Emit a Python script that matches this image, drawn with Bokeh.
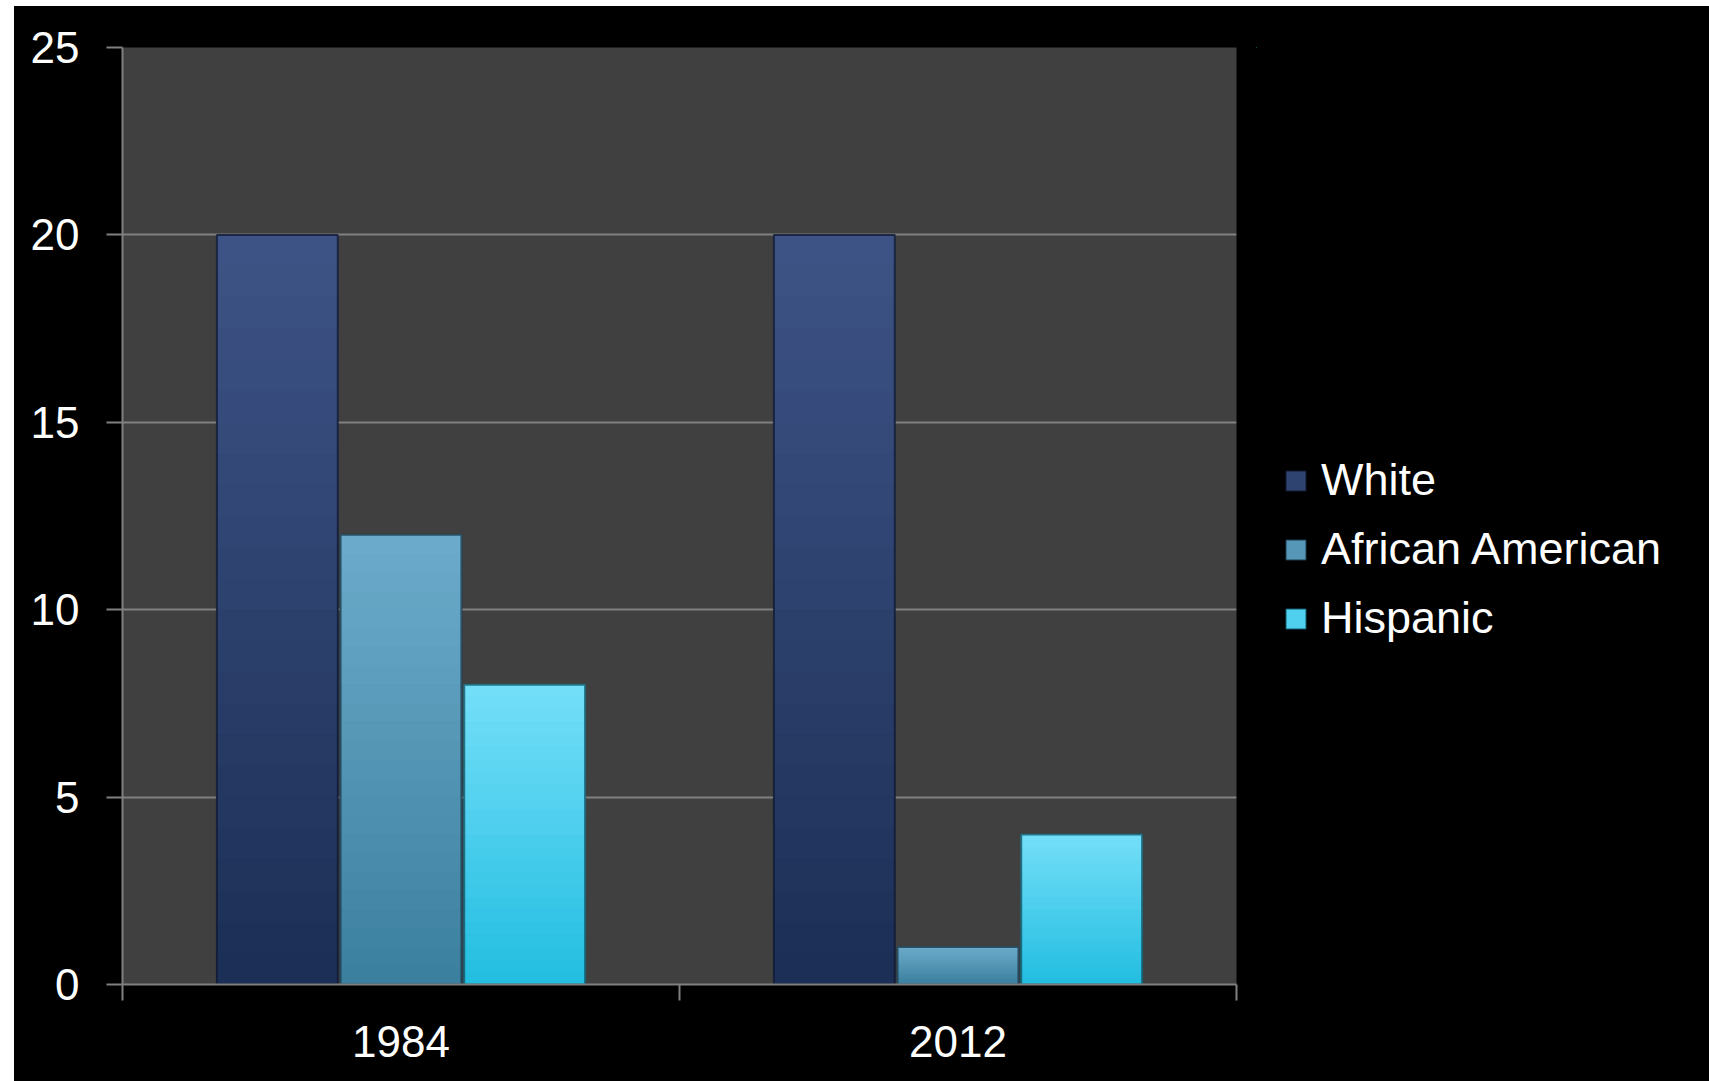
from bokeh.plotting import figure
from bokeh.layouts import row
from bokeh.models import ColumnDataSource, Range1d, FixedTicker, Legend, LegendItem
from bokeh.embed import file_html
from bokeh.resources import INLINE

# ---- data ----
years = ["1984", "2012"]
series = ["White", "African American", "Hispanic"]
white = [20, 20]
african_american = [12, 1]
hispanic = [8, 4]
y_ticks = [0, 5, 10, 15, 20, 25]

values = [white, african_american, hispanic]

# ---- style ----
top_colors = ["#3e5486", "#6cabcb", "#74dff8"]
bottom_colors = ["#1b2e55", "#3b7f9e", "#22bde1"]
edge_colors = ["#111a33", "#1d3d50", "#135a6c"]
offsets = [-0.222, 0.0, 0.222]
bar_w = 0.217
N = 24
FONT = "Liberation Sans"


def mix(c1, c2, t):
    a = [int(c1[i:i + 2], 16) for i in (1, 3, 5)]
    b = [int(c2[i:i + 2], 16) for i in (1, 3, 5)]
    return "#%02x%02x%02x" % tuple(round(a[j] + (b[j] - a[j]) * t) for j in range(3))


p = figure(width=1242, height=1075,
           x_range=Range1d(0, len(years)), y_range=Range1d(0, 25),
           output_backend="svg", toolbar_location=None,
           min_border_left=108, min_border_top=41,
           min_border_right=20, min_border_bottom=97)
p.margin = 0
p.background_fill_color = "#404040"
p.border_fill_color = "black"
p.outline_line_color = None
p.styles = {"background-color": "black"}

# legend-only figure to the right of the chart (its proxy glyphs lie far outside its ranges)
lg = figure(width=453, height=1075,
            x_range=Range1d(1000, 1002), y_range=Range1d(-2000, -1000),
            x_axis_type=None, y_axis_type=None,
            output_backend="svg", toolbar_location=None,
            min_border=0)
lg.margin = 0
lg.background_fill_alpha = 0
lg.border_fill_alpha = 0
lg.outline_line_color = None
lg.grid.visible = False
lg.styles = {"background-color": "black"}

legend_items = []
for s, vals in enumerate(values):
    xs = [i + 0.5 + offsets[s] for i in range(len(years))]
    for k in range(N):
        col = mix(bottom_colors[s], top_colors[s], (k + 0.5) / N)
        src = ColumnDataSource(dict(
            x=xs,
            bottom=[v * k / N for v in vals],
            top=[v * (k + 1) / N for v in vals],
        ))
        p.vbar(x="x", bottom="bottom", top="top", width=bar_w, source=src,
               fill_color=col, line_color=col, line_width=1)
    osrc = ColumnDataSource(dict(x=xs, top=list(vals)))
    p.vbar(x="x", bottom=0, top="top", width=bar_w, source=osrc,
           fill_alpha=0, line_color=edge_colors[s], line_width=2, line_alpha=0.8)
    # proxy (out of view) for the legend swatch
    mid = mix(bottom_colors[s], top_colors[s], 0.55)
    proxy = lg.vbar(x="x", bottom=0, top="top", width=bar_w, source=osrc,
                    fill_color=mid, line_color=edge_colors[s], line_width=1)
    legend_items.append(LegendItem(label=series[s], renderers=[proxy]))

# y axis
p.yaxis.ticker = FixedTicker(ticks=y_ticks)
p.yaxis.axis_line_color = "#808080"
p.yaxis.axis_line_width = 2
p.yaxis.major_tick_line_color = "#808080"
p.yaxis.major_tick_line_width = 2
p.yaxis.major_tick_out = 16
p.yaxis.major_tick_in = 0
p.yaxis.minor_tick_line_color = None
p.yaxis.major_label_text_color = "white"
p.yaxis.major_label_text_font = FONT
p.yaxis.major_label_text_font_size = "44px"
p.yaxis.major_label_standoff = 27

# x axis (labels at category centres, tick marks at boundaries)
centers = [i + 0.5 for i in range(len(years))]
bounds = [i for i in range(len(years) + 1)]
p.xaxis.ticker = FixedTicker(ticks=centers, minor_ticks=bounds)
p.xaxis.major_label_overrides = {c: y for c, y in zip(centers, years)}
p.xaxis.axis_line_color = "#808080"
p.xaxis.axis_line_width = 2
p.xaxis.major_tick_line_color = None
p.xaxis.major_tick_out = 0
p.xaxis.major_tick_in = 0
p.xaxis.minor_tick_line_color = "#808080"
p.xaxis.minor_tick_line_width = 2
p.xaxis.minor_tick_out = 16
p.xaxis.minor_tick_in = 0
p.xaxis.major_label_text_color = "white"
p.xaxis.major_label_text_font = FONT
p.xaxis.major_label_text_font_size = "44px"
p.xaxis.major_label_standoff = 25

p.xgrid.visible = False
p.ygrid.ticker = FixedTicker(ticks=y_ticks)
p.ygrid.grid_line_color = "#808080"
p.ygrid.grid_line_width = 2

legend = Legend(items=legend_items, location=(27, 340))
legend.background_fill_alpha = 0
legend.border_line_color = None
legend.padding = 0
legend.margin = 0
legend.glyph_width = 25
legend.glyph_height = 25
legend.label_standoff = 13
legend.label_height = 50
legend.spacing = 17
legend.label_text_color = "white"
legend.label_text_font = FONT
legend.label_text_font_size = "45px"
lg.add_layout(legend, "center")

layout = row(p, lg, spacing=0)
layout.margin = (6, 0, 0, 14)
layout.styles = {"background-color": "black"}

open("out.html", "w").write(file_html(layout, INLINE))
